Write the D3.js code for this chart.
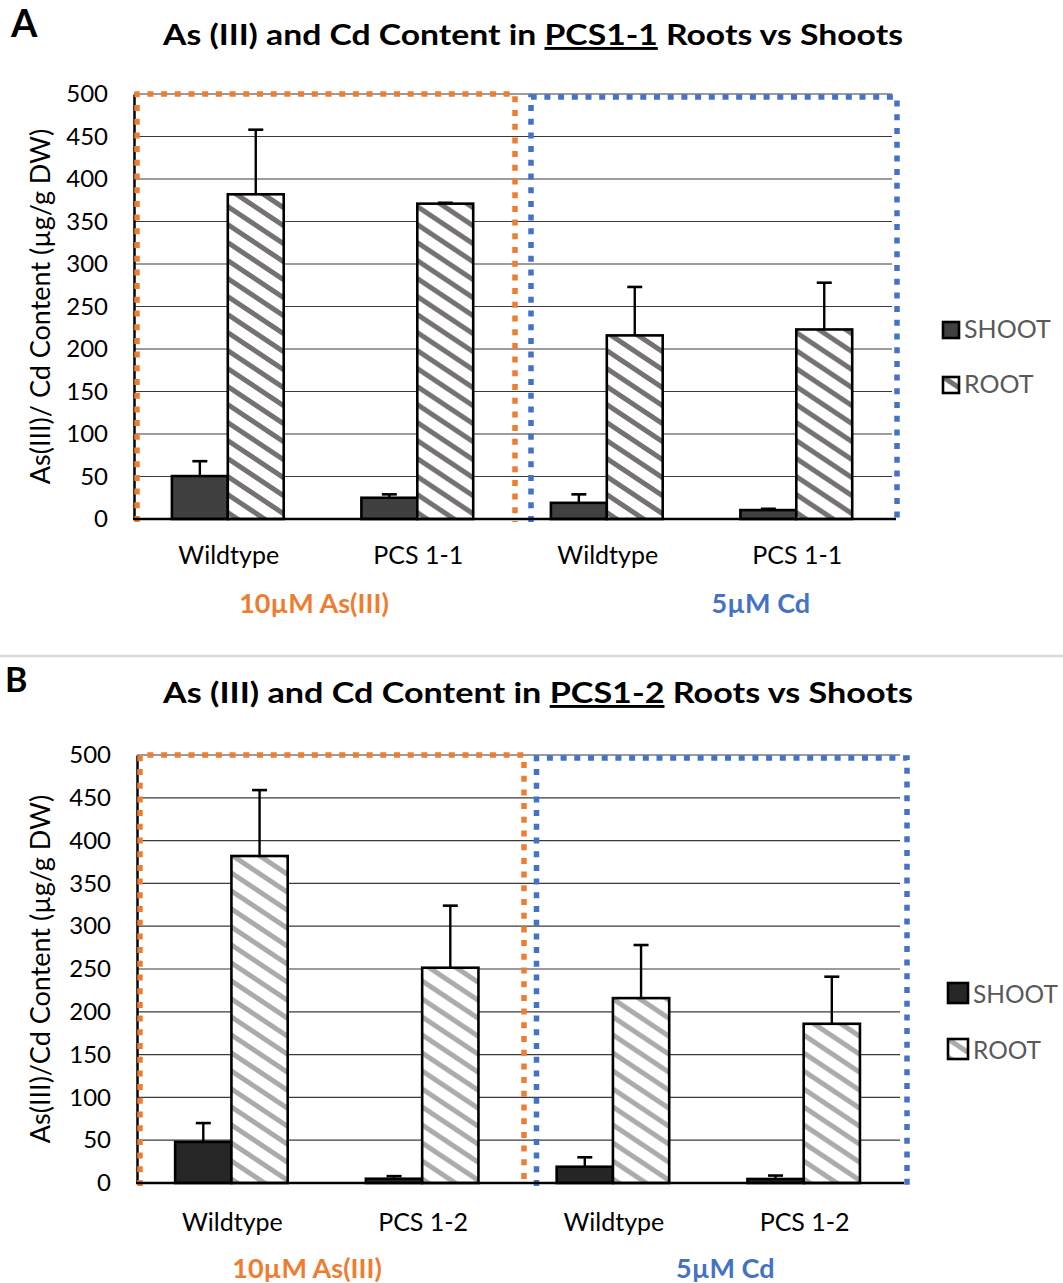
<!DOCTYPE html>
<html>
<head>
<meta charset="utf-8">
<script src="https://cdn.jsdelivr.net/npm/d3@7"></script>
<style>
    body { margin: 0; background: #fff; }
    text { font-family: Lato, "Open Sans", sans-serif; }
</style>
</head>
<body>
<svg id="fig" width="1063" height="1283"></svg>
<script>
// values (µg/g DW)
var series = ["SHOOT", "ROOT"];
var treatments = ["10µM As(III)", "5µM Cd"];
var yTicks = [0, 50, 100, 150, 200, 250, 300, 350, 400, 450, 500];

var categoriesA = ["Wildtype", "PCS 1-1", "Wildtype", "PCS 1-1"];
var shootA = [50.5, 25, 19, 10.5];
var shootErrA = [17.5, 4, 10, 1.5];
var rootA = [382, 371, 216, 223];
var rootErrA = [76, 1, 57, 55];

var categoriesB = ["Wildtype", "PCS 1-2", "Wildtype", "PCS 1-2"];
var shootB = [48, 5, 19, 4.7];
var shootErrB = [22, 3, 11, 4];
var rootB = [382, 251.5, 216, 186];
var rootErrB = [77, 72.5, 62, 55];

var orange = "#ED7D31",
    blue = "#4472C4";

var svg = d3.select("#fig");
var defs = svg.append("defs");

function stripes(id, color) {
    var w = 27, h = 18;
    var p = defs.append("pattern")
        .attr("id", id)
        .attr("patternUnits", "userSpaceOnUse")
        .attr("width", w)
        .attr("height", h);
    p.append("rect")
        .attr("width", w)
        .attr("height", h)
        .attr("fill", "#fff");
    [-h, 0, h].forEach(function(o) {
        p.append("line")
            .attr("x1", -w).attr("y1", o - h)
            .attr("x2", 2 * w).attr("y2", o + 2 * h)
            .attr("stroke", color)
            .attr("stroke-width", 5);
    });
}
stripes("rootA", "#767171");
stripes("rootB", "#AEAAAA");

// horizontal separator between the panels
svg.append("line")
    .attr("x1", 0).attr("x2", 1063)
    .attr("y1", 656).attr("y2", 656)
    .attr("stroke", "#d9d9d9")
    .attr("stroke-width", 2.5);

function fitText(sel, w) {
    var len = sel.node().getComputedTextLength();
    if (Math.abs(len - w) > 2) {
        sel.attr("textLength", w).attr("lengthAdjust", "spacingAndGlyphs");
    }
}

function drawPanel(cfg) {
    var x0 = d3.scaleBand()
        .domain(d3.range(cfg.categories.length))
        .range([cfg.left, cfg.right]);

    var x1 = d3.scaleBand()
        .domain(series)
        .range([x0.bandwidth() * 0.2, x0.bandwidth() * 0.79]);

    var y = d3.scaleLinear()
        .domain([0, 500])
        .range([cfg.bottom, cfg.top]);

    var g = svg.append("g");

    // panel letter
    g.append("text")
        .attr("x", cfg.letterX)
        .attr("y", cfg.letterY)
        .style("font-size", cfg.letterSize + "px")
        .style("font-weight", "bold")
        .text(cfg.letter);

    // title with underlined line name
    var title = g.append("text")
        .attr("x", cfg.titleX)
        .attr("y", cfg.titleY)
        .style("font-size", "29px")
        .style("font-weight", "bold");
    title.append("tspan").text(cfg.titlePre);
    title.append("tspan").attr("text-decoration", "underline").text(cfg.line);
    title.append("tspan").text(" Roots vs Shoots");
    fitText(title, cfg.titleW);

    // gridlines
    g.selectAll("line.grid")
        .data(yTicks.slice(1))
        .enter()
        .append("line")
            .attr("class", "grid")
            .attr("x1", cfg.left)
            .attr("x2", cfg.right)
            .attr("y1", function(d) { return y(d); })
            .attr("y2", function(d) { return y(d); })
            .attr("stroke", "#3a3a3a")
            .attr("stroke-width", 1.2);

    // y axis
    var yAxis = d3.axisLeft(y)
        .tickValues(yTicks)
        .tickSize(0)
        .tickPadding(26);
    var ya = g.append("g")
        .attr("transform", "translate(" + [cfg.left, 0] + ")")
        .call(yAxis);
    ya.select(".domain")
        .attr("stroke", "#000")
        .attr("stroke-width", 2.5);
    ya.selectAll(".tick text")
        .style("font-family", "Lato, sans-serif")
        .style("font-size", "24px")
        .attr("fill", "#000");

    g.append("text")
        .attr("transform", "translate(" + [cfg.yLabelX, (cfg.top + cfg.bottom) / 2 + cfg.yLabelDy] + ") rotate(-90)")
        .attr("text-anchor", "middle")
        .style("font-size", "27px")
        .text(cfg.yLabel);

    // treatment boxes (three sides, the baseline closes them)
    var mid = x0(2);
    var boxes = [
        { x: cfg.left + 3, x2: mid + cfg.orangeRight, top: y(500), color: orange },
        { x: mid + cfg.blueLeft, x2: cfg.right + cfg.blueRight, top: y(500) + 3, color: blue }
    ];

    // bars
    var cat = g.selectAll("g.cat")
        .data(cfg.categories.map(function(c, i) {
            return {
                name: c,
                i: i,
                bars: [
                    { s: "SHOOT", v: cfg.shoot[i], e: cfg.shootErr[i] },
                    { s: "ROOT", v: cfg.root[i], e: cfg.rootErr[i] }
                ]
            };
        }))
        .enter()
        .append("g")
            .attr("class", "cat")
            .attr("transform", function(d) { return "translate(" + [x0(d.i), 0] + ")"; });

    cat.selectAll("line.err")
        .data(function(d) { return d.bars; })
        .enter()
        .append("line")
            .attr("class", "err")
            .attr("x1", function(d) { return x1(d.s) + x1.bandwidth() / 2; })
            .attr("x2", function(d) { return x1(d.s) + x1.bandwidth() / 2; })
            .attr("y1", function(d) { return y(d.v); })
            .attr("y2", function(d) { return y(d.v + d.e); })
            .attr("stroke", "#000")
            .attr("stroke-width", 2.4);

    cat.selectAll("line.cap")
        .data(function(d) { return d.bars; })
        .enter()
        .append("line")
            .attr("class", "cap")
            .attr("x1", function(d) { return x1(d.s) + x1.bandwidth() / 2 - 7.5; })
            .attr("x2", function(d) { return x1(d.s) + x1.bandwidth() / 2 + 7.5; })
            .attr("y1", function(d) { return y(d.v + d.e); })
            .attr("y2", function(d) { return y(d.v + d.e); })
            .attr("stroke", "#000")
            .attr("stroke-width", 2.6);

    cat.selectAll("rect.bar")
        .data(function(d) { return d.bars; })
        .enter()
        .append("rect")
            .attr("class", "bar")
            .attr("x", function(d) { return x1(d.s); })
            .attr("width", x1.bandwidth())
            .attr("y", function(d) { return y(d.v); })
            .attr("height", function(d) { return y(0) - y(d.v); })
            .attr("fill", function(d) { return d.s === "SHOOT" ? cfg.shootFill : "url(#" + cfg.rootPattern + ")"; })
            .attr("stroke", "#000")
            .attr("stroke-width", 2.6);

    // category labels
    cat.append("text")
        .attr("x", x0.bandwidth() / 2)
        .attr("y", cfg.catY)
        .attr("text-anchor", "middle")
        .style("font-size", "25px")
        .text(function(d) { return d.name; });

    g.selectAll("path.box")
        .data(boxes)
        .enter()
        .append("path")
            .attr("class", "box")
            .attr("d", function(d) {
                return "M" + [d.x, y(0) + 3] + "L" + [d.x, d.top] + "L" + [d.x2, d.top] + "L" + [d.x2, y(0) + 3];
            })
            .attr("fill", "none")
            .attr("stroke", function(d) { return d.color; })
            .attr("stroke-width", 5.5)
            .attr("stroke-dasharray", "6 7.7");

    // baseline
    g.append("line")
        .attr("x1", cfg.left - 1)
        .attr("x2", cfg.right + 4)
        .attr("y1", y(0))
        .attr("y2", y(0))
        .attr("stroke", "#000")
        .attr("stroke-width", 2.5);

    // treatment labels
    g.selectAll("text.treat")
        .data(treatments)
        .enter()
        .append("text")
            .attr("class", "treat")
            .attr("x", function(d, i) { return cfg.left + (cfg.right - cfg.left) * cfg.treatPos[i]; })
            .attr("y", cfg.treatY)
            .attr("text-anchor", "middle")
            .style("font-size", "27px")
            .style("font-weight", "bold")
            .attr("fill", function(d, i) { return i === 0 ? orange : blue; })
            .text(function(d) { return d; });

    // legend
    var leg = g.selectAll("g.leg")
        .data(series)
        .enter()
        .append("g")
            .attr("class", "leg")
            .attr("transform", function(d, i) {
                return "translate(" + [cfg.legX, cfg.legY + i * cfg.legStep] + ")";
            });
    leg.append("rect")
        .attr("width", cfg.legSize)
        .attr("height", cfg.legSize)
        .attr("fill", function(d) { return d === "SHOOT" ? cfg.shootFill : "url(#" + cfg.rootPattern + ")"; })
        .attr("stroke", "#000")
        .attr("stroke-width", 2.6);
    leg.append("text")
        .attr("x", cfg.legSize + 5)
        .attr("y", cfg.legSize)
        .style("font-size", cfg.legFont + "px")
        .attr("fill", "#595959")
        .text(function(d) { return d; });
}

drawPanel({
    letter: "A", letterX: 11, letterY: 37, letterSize: 38,
    titlePre: "As (III) and Cd Content in ", line: "PCS1-1",
    titleX: 163, titleY: 45, titleW: 740,
    yLabel: "As(III)/ Cd Content (µg/g DW)", yLabelX: 50, yLabelDy: 0,
    categories: categoriesA,
    shoot: shootA, shootErr: shootErrA, root: rootA, rootErr: rootErrA,
    left: 134, right: 892, top: 94, bottom: 519,
    orangeRight: 2, blueLeft: 18, blueRight: 5,
    catY: 564, treatY: 613, treatPos: [0.2375, 0.827],
    shootFill: "#404040", rootPattern: "rootA",
    legX: 943, legY: 322, legStep: 55, legSize: 16, legFont: 25
});

drawPanel({
    letter: "B", letterX: 5, letterY: 692, letterSize: 34,
    titlePre: "As (III) and Cd Content in ", line: "PCS1-2",
    titleX: 163, titleY: 703, titleW: 750,
    yLabel: "As(III)/Cd Content (µg/g DW)", yLabelX: 50, yLabelDy: 0,
    categories: categoriesB,
    shoot: shootB, shootErr: shootErrB, root: rootB, rootErr: rootErrB,
    left: 137, right: 900, top: 755, bottom: 1183,
    orangeRight: 5.5, blueLeft: 18, blueRight: 7,
    catY: 1231, treatY: 1278, treatPos: [0.223, 0.771],
    shootFill: "#262626", rootPattern: "rootB",
    legX: 948, legY: 983, legStep: 56, legSize: 20, legFont: 24.5
});
</script>
</body>
</html>
